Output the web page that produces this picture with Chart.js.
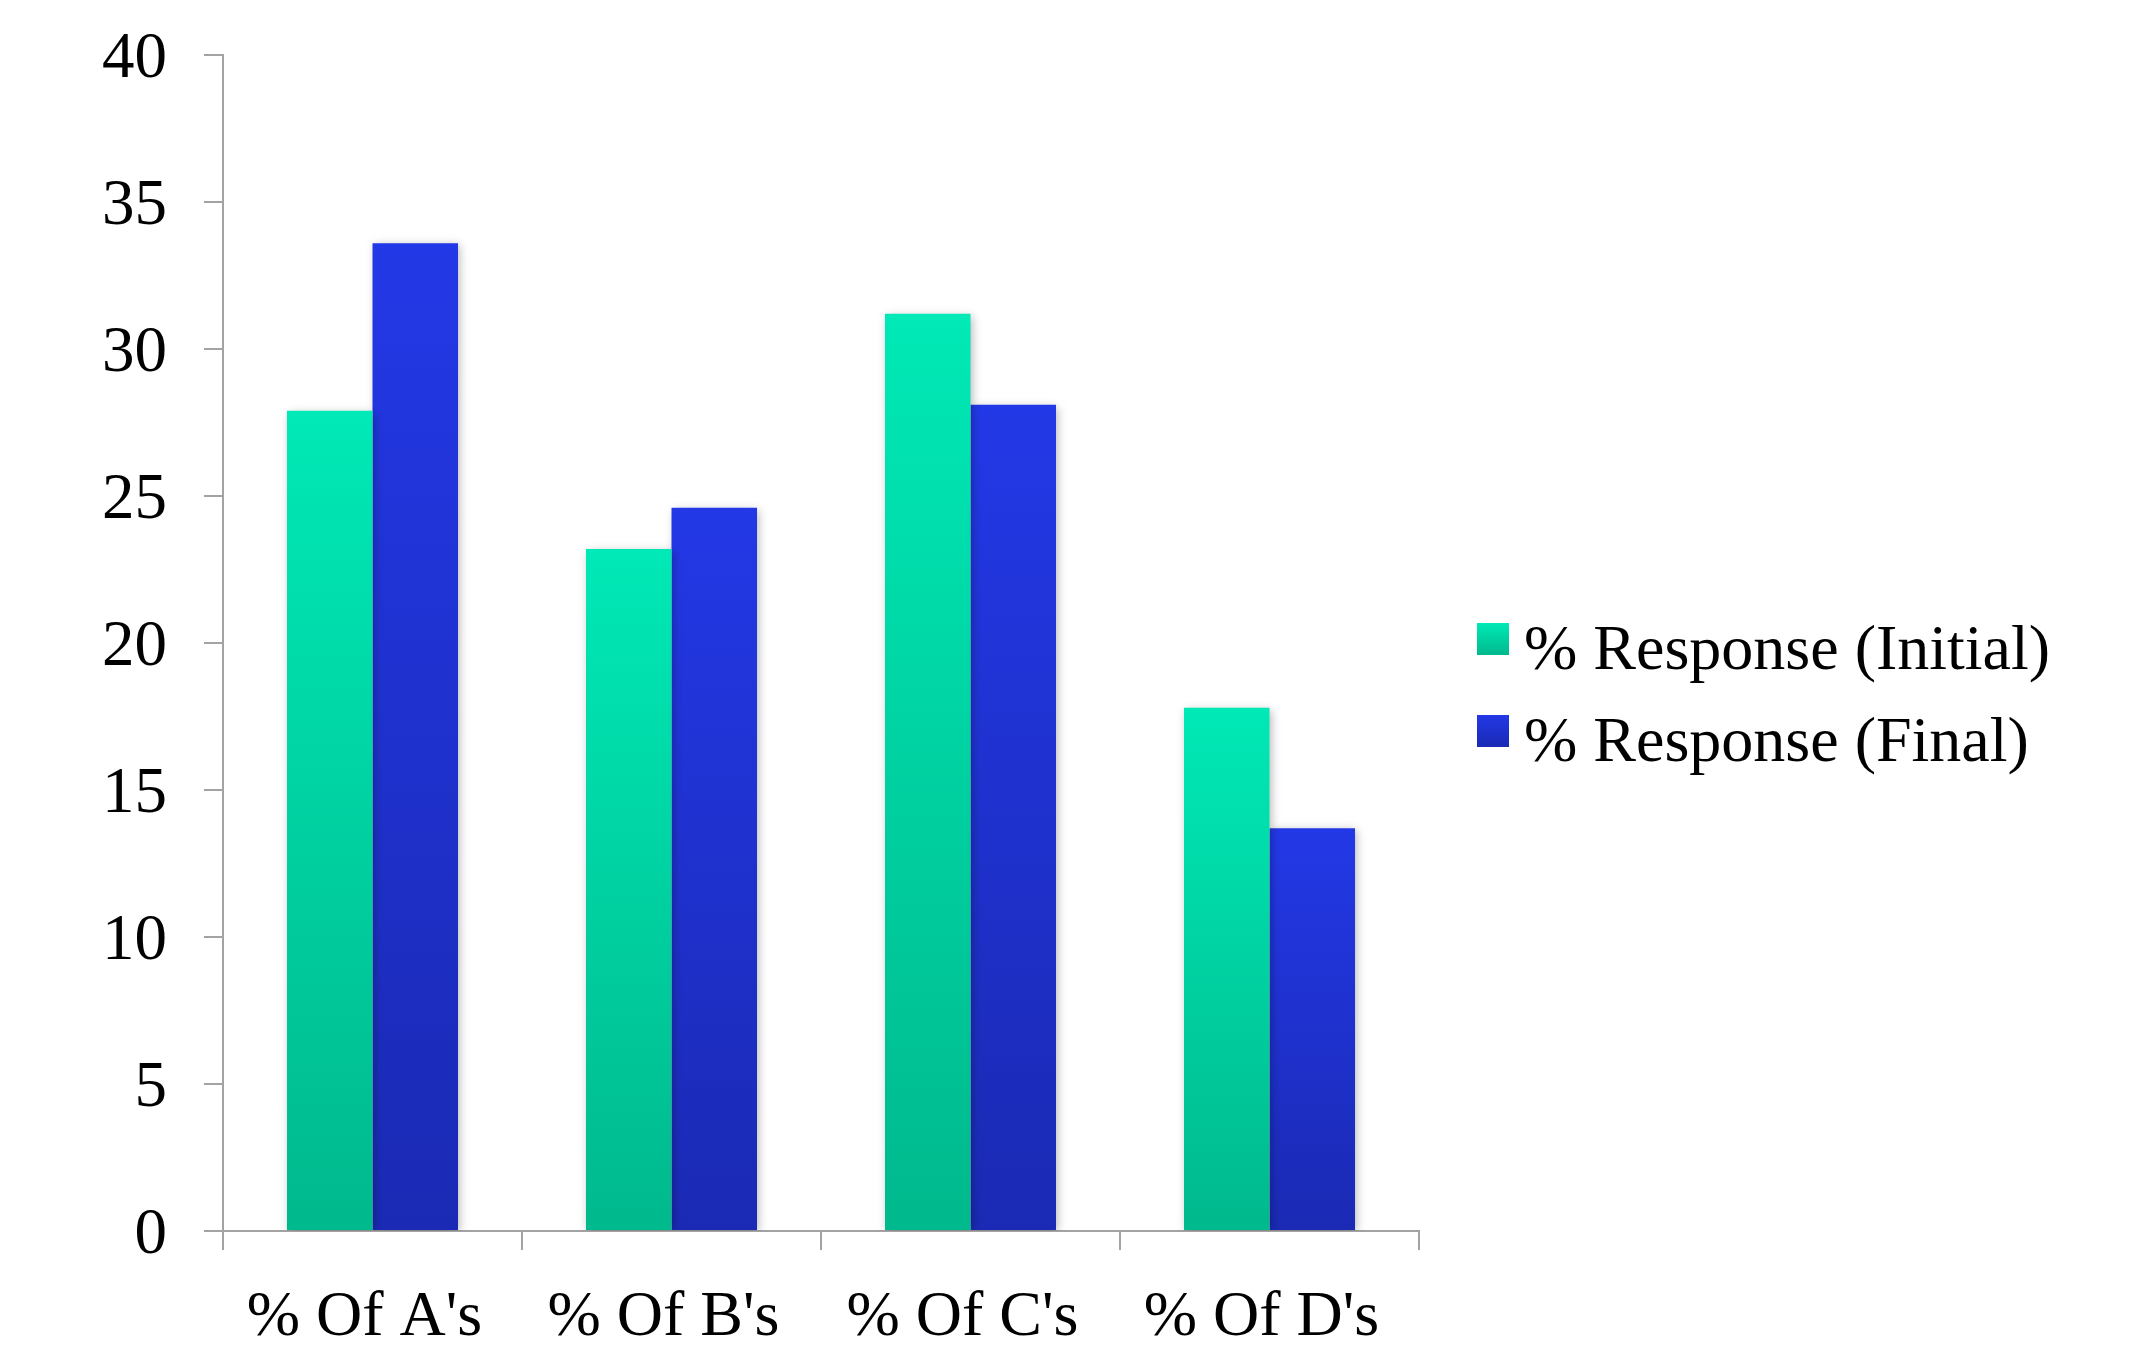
<!DOCTYPE html>
<html>
<head>
<meta charset="utf-8">
<title>% Response</title>
<script src="https://cdn.jsdelivr.net/npm/chart.js@4.4.1/dist/chart.umd.min.js"></script>
<style>
  html, body { margin: 0; padding: 0; background: #ffffff; }
  #wrap { width: 2153px; height: 1352px; position: relative; }
</style>
</head>
<body>
<div id="wrap"><canvas id="chart"></canvas></div>
<script>
// Categories and series values
const categories = ["% Of A's", "% Of B's", "% Of C's", "% Of D's"];
const seriesLabels = ["% Response (Initial)", "% Response (Final)"];
const initialValues = [27.9, 23.2, 31.2, 17.8];
const finalValues = [33.6, 24.6, 28.1, 13.7];
// Value axis range and step
const yRange = [0, 40];
const yStep = [5];

const FONT = '"Liberation Serif", "Times New Roman", Times, serif';
const AXIS_GREY = '#a3a3a3';

// Vertical gradients for each series (top colour, bottom colour)
const initialColors = ['#00e9b6', '#00b98d'];
const finalColors = ['#2338e6', '#1a2ab4'];

function barGradient(colors) {
  return (ctx) => {
    const chart = ctx.chart;
    if (!chart.chartArea || ctx.type !== 'data') return colors[0];
    const y = chart.scales.y;
    const top = y.getPixelForValue(ctx.raw);
    const base = y.getPixelForValue(0);
    const g = chart.ctx.createLinearGradient(0, top, 0, base);
    g.addColorStop(0, colors[0]);
    g.addColorStop(1, colors[1]);
    return g;
  };
}

// Soft drop shadow behind the bars
const barShadow = {
  id: 'barShadow',
  beforeDatasetsDraw(chart) {
    const c = chart.ctx;
    c.save();
    c.shadowColor = 'rgba(0,0,0,0.28)';
    c.shadowBlur = 9;
    c.shadowOffsetX = 2;
    c.shadowOffsetY = 2;
  },
  afterDatasetsDraw(chart) {
    chart.ctx.restore();
  }
};

// Legend to the right of the plot, with gradient swatches
const sideLegend = {
  id: 'sideLegend',
  afterDraw(chart) {
    const c = chart.ctx;
    const boxX = 1477, box = 32, textX = 1524;
    const firstBaseline = 669, rowGap = 92;
    const palettes = [initialColors, finalColors];
    c.save();
    c.font = '64px ' + FONT;
    c.textBaseline = 'alphabetic';
    c.textAlign = 'left';
    chart.data.datasets.forEach((ds, i) => {
      const base = firstBaseline + i * rowGap;
      const top = base - 46;
      const g = c.createLinearGradient(0, top, 0, top + box);
      g.addColorStop(0, palettes[i][0]);
      g.addColorStop(1, palettes[i][1]);
      c.fillStyle = g;
      c.fillRect(boxX, top, box, box);
      c.fillStyle = '#000';
      c.fillText(ds.label, textX, base);
    });
    c.restore();
  }
};

new Chart(document.getElementById('chart'), {
  type: 'bar',
  data: {
    labels: categories,
    datasets: [
      {
        label: seriesLabels[0],
        data: initialValues,
        backgroundColor: barGradient(initialColors),
        borderWidth: 0,
        categoryPercentage: 0.572,
        barPercentage: 1.0
      },
      {
        label: seriesLabels[1],
        data: finalValues,
        backgroundColor: barGradient(finalColors),
        borderWidth: 0,
        categoryPercentage: 0.572,
        barPercentage: 1.0
      }
    ]
  },
  options: {
    responsive: true,
    maintainAspectRatio: false,
    animation: false,
    devicePixelRatio: 1,
    layout: { padding: { left: 0, right: 734, top: 55, bottom: 0 } },
    plugins: {
      legend: { display: false },
      tooltip: { enabled: false }
    },
    scales: {
      x: {
        grid: {
          offset: true,
          drawOnChartArea: false,
          drawTicks: true,
          tickLength: 19,
          color: AXIS_GREY,
          lineWidth: 2
        },
        border: { display: true, color: AXIS_GREY, width: 2 },
        ticks: {
          color: '#000',
          padding: 30,
          labelOffset: -8,
          maxRotation: 0,
          font: { family: FONT, size: 64 }
        },
        afterFit(scale) { scale.height = 121; }
      },
      y: {
        min: yRange[0],
        max: yRange[1],
        grid: {
          drawOnChartArea: false,
          drawTicks: true,
          tickLength: 19,
          color: AXIS_GREY,
          lineWidth: 2
        },
        border: { display: true, color: AXIS_GREY, width: 2 },
        ticks: {
          stepSize: yStep[0],
          color: '#000',
          padding: 37,
          labelOffset: 5,
          font: { family: FONT, size: 65 }
        },
        afterFit(scale) {
          scale.width = 223;
          scale.paddingTop = 0;
          scale.paddingBottom = 0;
        }
      }
    }
  },
  plugins: [barShadow, sideLegend]
});
</script>
</body>
</html>
